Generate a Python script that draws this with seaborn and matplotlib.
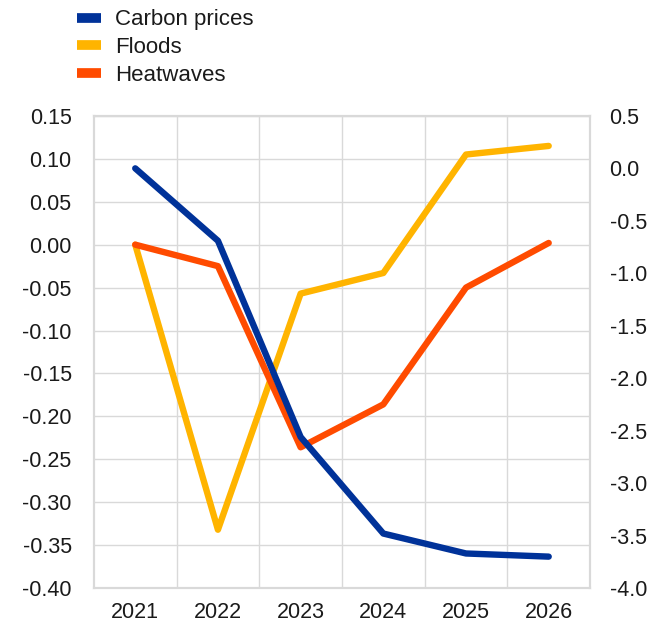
import numpy as np
import pandas as pd
import seaborn as sns
import matplotlib.pyplot as plt
from matplotlib.lines import Line2D

years = [2021, 2022, 2023, 2024, 2025, 2026]
carbon_prices = [0.0, -0.69, -2.56, -3.48, -3.67, -3.70]   # right axis
floods = [0.0, -0.332, -0.057, -0.033, 0.105, 0.115]       # left axis
heatwaves = [0.0, -0.025, -0.236, -0.186, -0.05, 0.002]    # left axis

left_ticks = [0.15, 0.10, 0.05, 0.00, -0.05, -0.10, -0.15, -0.20, -0.25, -0.30, -0.35, -0.40]
right_ticks = [0.5, 0.0, -0.5, -1.0, -1.5, -2.0, -2.5, -3.0, -3.5, -4.0]

blue = "#003299"
yellow = "#FFB400"
orange = "#FF4B00"
grid_col = "#d9d9d9"
text_col = "#1a1a1a"

sns.set_style("white")
plt.rcParams["font.family"] = ["Liberation Sans", "DejaVu Sans"]

fig = plt.figure(figsize=(6.52, 6.23), dpi=100)
ax = fig.add_axes([0.144, 0.056, 0.761, 0.758])
ax2 = ax.twinx()

df = pd.DataFrame({"year": years, "Floods": floods, "Heatwaves": heatwaves,
                   "Carbon prices": carbon_prices})

lw = 4.6
sns.lineplot(data=df, x="year", y="Floods", ax=ax, color=yellow, linewidth=lw,
             solid_capstyle="round", zorder=3)
sns.lineplot(data=df, x="year", y="Heatwaves", ax=ax, color=orange, linewidth=lw,
             solid_capstyle="round", zorder=4)
sns.lineplot(data=df, x="year", y="Carbon prices", ax=ax2, color=blue, linewidth=lw,
             solid_capstyle="round", zorder=5)

ax.set_ylim(-0.40, 0.15)
ax.set_yticks(left_ticks)
ax.set_yticklabels([f"{v:.2f}" for v in left_ticks])
ax2.set_ylim(-4.0, 0.5)
ax2.set_yticks(right_ticks)
ax2.set_yticklabels([f"{v:.1f}" for v in right_ticks])

ax.set_xlim(years[0] - 0.5, years[-1] + 0.5)
ax.set_xticks(years)
ax.set_xticklabels([str(y) for y in years])
ax.set_xticks([y + 0.5 for y in years[:-1]], minor=True)

ax.grid(True, axis="y", which="major", color=grid_col, linewidth=1.0)
ax.grid(True, axis="x", which="minor", color=grid_col, linewidth=1.0)
ax.grid(False, axis="x", which="major")
ax2.grid(False)
ax.set_axisbelow(True)

for a in (ax, ax2):
    a.set_xlabel("")
    a.set_ylabel("")
    for s in a.spines.values():
        s.set_color(grid_col)
        s.set_linewidth(1.5)
    a.tick_params(which="both", length=0, labelsize=15.5, colors=text_col)
ax.tick_params(axis="y", pad=16)
ax2.tick_params(axis="y", pad=14)
ax.tick_params(axis="x", pad=10)

handles = [Line2D([], [], color=blue, linewidth=7, solid_capstyle="butt"),
           Line2D([], [], color=yellow, linewidth=7, solid_capstyle="butt"),
           Line2D([], [], color=orange, linewidth=7, solid_capstyle="butt")]
fig.legend(handles, ["Carbon prices", "Floods", "Heatwaves"], loc="upper left",
           bbox_to_anchor=(0.088, 1.017), frameon=False, fontsize=16,
           handlelength=1.05, handletextpad=0.65, labelspacing=0.3, labelcolor=text_col)

fig.savefig("out.png", dpi=100)
